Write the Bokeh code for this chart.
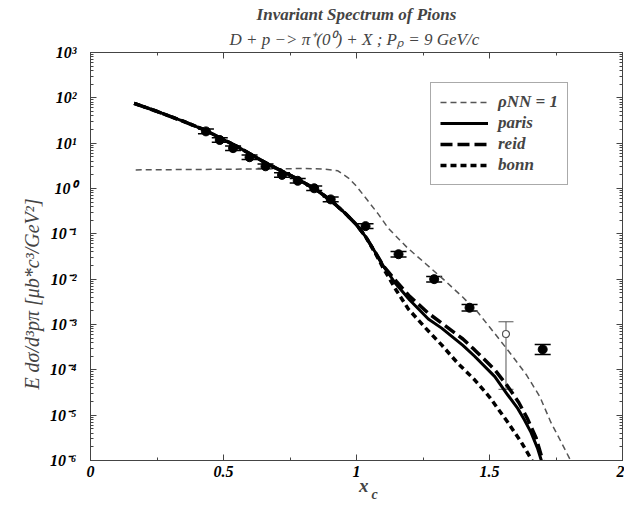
import numpy as np
from bokeh.plotting import figure
from bokeh.models import (Range1d, LogAxis, LinearAxis, FixedTicker, CustomJSTickFormatter,
                          Legend, LegendItem, Title, Whisker, ColumnDataSource, TeeHead)
from bokeh.embed import file_html
from bokeh.resources import INLINE

FONT = "Liberation Serif"

# ---------------- data (log10 values) ----------------
rho_x = [0.17, 0.4, 0.6, 0.8, 0.88, 0.93, 0.97, 1.0, 1.04, 1.08, 1.12, 1.19, 1.26, 1.33,
         1.40, 1.456, 1.52, 1.58, 1.64, 1.69, 1.73, 1.77, 1.805]
rho_log = [0.41, 0.42, 0.43, 0.44, 0.43, 0.39, 0.23, 0.05, -0.25, -0.55, -0.88, -1.30, -1.66,
           -2.02, -2.40, -2.73, -3.20, -3.65, -4.12, -4.60, -5.15, -5.6, -6.0]

paris_x = [0.164, 0.25, 0.35, 0.43, 0.55, 0.66, 0.785, 0.85, 0.909, 0.96, 1.0, 1.034, 1.07,
           1.10, 1.146, 1.2, 1.27, 1.32, 1.40, 1.444, 1.52, 1.568, 1.606, 1.631, 1.656, 1.68, 1.695]
paris_log = [1.88, 1.70, 1.48, 1.29, 0.93, 0.56, 0.19, -0.03, -0.29, -0.56, -0.80, -1.06, -1.40,
             -1.70, -2.09, -2.46, -2.88, -3.08, -3.46, -3.70, -4.15, -4.55, -4.85, -5.10, -5.38, -5.72, -6.0]

reid_x = [0.164, 0.25, 0.35, 0.43, 0.55, 0.66, 0.785, 0.85, 0.909, 0.96, 1.0, 1.034, 1.07,
          1.10, 1.15, 1.2, 1.27, 1.32, 1.40, 1.444, 1.52, 1.568, 1.61, 1.642, 1.675, 1.70]
reid_log = [1.88, 1.70, 1.48, 1.29, 0.93, 0.56, 0.19, -0.03, -0.29, -0.56, -0.80, -1.06, -1.40,
            -1.70, -2.05, -2.38, -2.75, -2.97, -3.32, -3.56, -4.0, -4.36, -4.72, -5.07, -5.5, -6.0]

bonn_x = [0.164, 0.25, 0.35, 0.43, 0.55, 0.66, 0.785, 0.85, 0.909, 0.96, 1.0, 1.034, 1.07,
          1.10, 1.15, 1.195, 1.26, 1.32, 1.38, 1.444, 1.50, 1.568, 1.62, 1.66]
bonn_log = [1.88, 1.70, 1.48, 1.29, 0.93, 0.56, 0.19, -0.03, -0.29, -0.56, -0.80, -1.06, -1.42,
            -1.75, -2.25, -2.66, -3.08, -3.45, -3.85, -4.22, -4.60, -5.15, -5.60, -6.0]

pts_x = [0.434, 0.486, 0.536, 0.598, 0.658, 0.72, 0.779, 0.841, 0.903, 1.034, 1.158, 1.292, 1.425, 1.70]
pts_log = [1.26, 1.07, 0.89, 0.69, 0.49, 0.30, 0.17, 0.005, -0.24, -0.83, -1.45, -2.0, -2.63, -3.55]
pts_err_log = [0.05, 0.05, 0.05, 0.05, 0.05, 0.05, 0.05, 0.05, 0.05, 0.05, 0.06, 0.06, 0.07, 0.11]

open_x = [1.562]
open_log = [-3.21]
open_lo_log = [-4.43]
open_hi_log = [-2.94]

x_ticks = [0, 0.5, 1, 1.5, 2]
x_minor = [0.25, 0.75, 1.25, 1.75]
y_exponents = [-6, -5, -4, -3, -2, -1, 0, 1, 2, 3]

legend_labels = ["\u03c1NN = 1", "paris", "reid", "bonn"]
title_1 = "Invariant Spectrum of Pions"
title_2 = "D + p \u2212> \u03c0\u207a(0\u2070) + X ;  P\u209a = 9 GeV/c"
y_label = "E d\u03c3/d\u00b3p\u03c0  [\u03bcb*c\u00b3/GeV\u00b2]" + "\u00a0" * 14
x_label = "\u00a0\u00a0\u00a0x"
x_label_sub = "c\n\u00a0"

# ---------------- figure ----------------
p = figure(width=624, height=500, y_axis_type="log",
           x_range=Range1d(0, 2), y_range=Range1d(1e-6, 1e3),
           output_backend="svg", toolbar_location=None, title=None,
           min_border_left=90, min_border_right=2, min_border_top=52, min_border_bottom=40,
           background_fill_color="white", border_fill_color="white")
p.grid.visible = False
p.outline_line_color = "#444444"

tick_font = dict(major_label_text_font=FONT, major_label_text_font_style="bold italic",
                 major_label_text_font_size="16px", major_label_text_color="black")
axis_style = dict(axis_line_color="#444444", major_tick_line_color="#444444",
                  minor_tick_line_color="#444444", major_tick_in=6, major_tick_out=0,
                  minor_tick_in=3, minor_tick_out=0)

y_major = [10.0 ** e for e in y_exponents]
y_minor = [m * 10.0 ** e for e in y_exponents[:-1] for m in range(2, 10)]

xa = p.xaxis[0]
xa.ticker = FixedTicker(ticks=x_ticks, minor_ticks=x_minor)
xa.formatter = CustomJSTickFormatter(code="return tick.toString();")
xa.major_label_standoff = 5
xa.axis_label = x_label
xa.axis_label_text_font = FONT
xa.axis_label_text_font_style = "bold italic"
xa.axis_label_text_font_size = "19px"
xa.axis_label_standoff = -5
for k, v in {**tick_font, **axis_style}.items():
    setattr(xa, k, v)

sup_code = """
const sup = {"-":"\u207b","0":"\u2070","1":"\u00b9","2":"\u00b2","3":"\u00b3","4":"\u2074",
             "5":"\u2075","6":"\u2076","7":"\u2077","8":"\u2078","9":"\u2079"};
const e = Math.round(Math.log10(tick));
return "10" + String(e).split("").map(c => sup[c]).join("");
"""
ya = p.yaxis[0]
ya.ticker = FixedTicker(ticks=y_major, minor_ticks=y_minor)
ya.formatter = CustomJSTickFormatter(code=sup_code)
ya.major_label_standoff = 14
ya.axis_label = y_label
ya.axis_label_text_font = FONT
ya.axis_label_text_font_style = "italic"
ya.axis_label_text_font_size = "20px"
ya.axis_label_standoff = 4
for k, v in {**tick_font, **axis_style}.items():
    setattr(ya, k, v)

top_ax = LinearAxis(ticker=FixedTicker(ticks=x_ticks, minor_ticks=x_minor),
                    formatter=CustomJSTickFormatter(code="return '';"),
                    major_label_standoff=0, **axis_style)
right_ax = LogAxis(ticker=FixedTicker(ticks=y_major, minor_ticks=y_minor),
                   formatter=CustomJSTickFormatter(code="return '';"),
                   major_label_standoff=0, **axis_style)
p.add_layout(top_ax, "above")
p.add_layout(right_ax, "right")

p.add_layout(Title(text=title_2, align="center", text_font=FONT, text_font_style="italic",
                   text_font_size="17px", standoff=8), "above")
p.add_layout(Title(text=title_1, align="center", text_font=FONT, text_font_style="bold italic",
                   text_font_size="17px", standoff=0), "above")

# subscript of the x label, as a small title right under the axis label
p.add_layout(Title(text=x_label_sub, align="left", offset=281, text_font=FONT,
                   text_font_style="bold italic", text_font_size="14px",
                   text_line_height=0.75, standoff=-30), "below")

# ---------------- curves ----------------
def ylog(a):
    return 10.0 ** np.asarray(a)

r_rho = p.line(rho_x, ylog(rho_log), line_color="#555555", line_width=1.5, line_dash="6 4")
r_paris = p.line(paris_x, ylog(paris_log), line_color="black", line_width=3)
r_reid = p.line(reid_x, ylog(reid_log), line_color="black", line_width=3.5, line_dash="12 5")
r_bonn = p.line(bonn_x, ylog(bonn_log), line_color="black", line_width=3.5, line_dash="6 4")

# ---------------- data points ----------------
pts = ColumnDataSource(dict(x=pts_x, y=ylog(pts_log),
                            lo=ylog(np.array(pts_log) - np.array(pts_err_log)),
                            hi=ylog(np.array(pts_log) + np.array(pts_err_log))))
p.add_layout(Whisker(source=pts, base="x", lower="lo", upper="hi", dimension="height",
                     line_color="black", line_width=1.5,
                     upper_head=TeeHead(size=16, line_color="black", line_width=1.5),
                     lower_head=TeeHead(size=16, line_color="black", line_width=1.5)))
p.scatter("x", "y", source=pts, size=9, color="black")

opn = ColumnDataSource(dict(x=open_x, y=ylog(open_log), lo=ylog(open_lo_log), hi=ylog(open_hi_log)))
p.add_layout(Whisker(source=opn, base="x", lower="lo", upper="hi", dimension="height",
                     line_color="#555555", line_width=1,
                     upper_head=TeeHead(size=15, line_color="#555555", line_width=1),
                     lower_head=TeeHead(size=15, line_color="#555555", line_width=1)))
p.scatter("x", "y", source=opn, size=7, fill_color="white", line_color="#555555", line_width=1.2)

# ---------------- legend ----------------
legend = Legend(items=[LegendItem(label=legend_labels[0], renderers=[r_rho]),
                       LegendItem(label=legend_labels[1], renderers=[r_paris]),
                       LegendItem(label=legend_labels[2], renderers=[r_reid]),
                       LegendItem(label=legend_labels[3], renderers=[r_bonn])],
                location=(340, 275), glyph_width=48, glyph_height=20, label_height=20,
                spacing=1, padding=9, margin=0, label_standoff=10,
                label_text_font=FONT, label_text_font_style="bold italic",
                label_text_font_size="17px", border_line_color="#555555", border_line_width=1,
                background_fill_alpha=1.0)
p.add_layout(legend)

open("out.html", "w").write(file_html(p, INLINE))
